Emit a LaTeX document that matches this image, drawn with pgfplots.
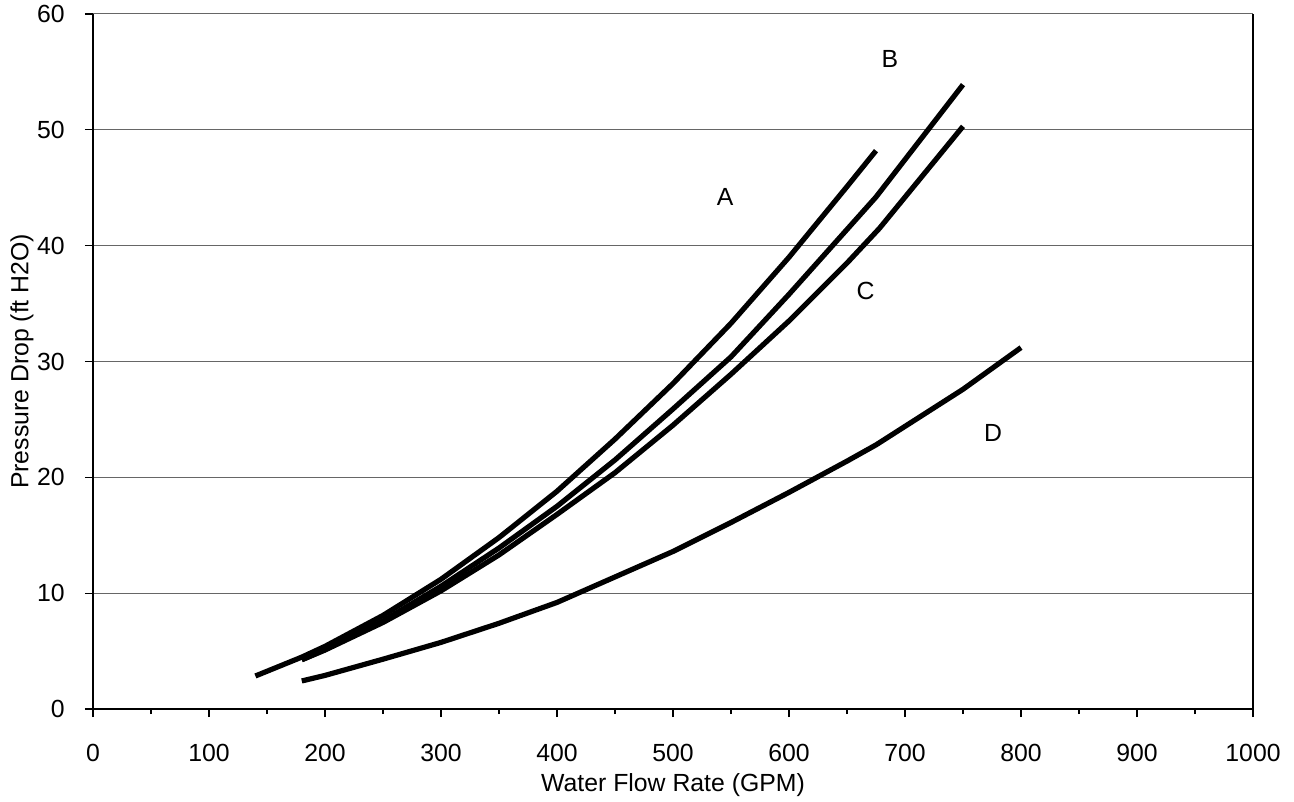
\documentclass[border=0pt]{standalone}
\usepackage{fontspec}
\setmainfont{Liberation Sans}
\usepackage{pgfplots}
\pgfplotsset{compat=1.18}
\newcommand{\chartfont}{\fontsize{12.4}{14}\selectfont}
\begin{document}
\begin{tikzpicture}
\path[use as bounding box] (-46.5pt,-46.5pt) rectangle (600.5pt,354.5pt);
\begin{axis}[
  scale only axis,
  width=580pt, height=347.5pt,
  xmin=0, xmax=1000, ymin=0, ymax=60,
  axis x line*=bottom, axis y line*=left,
  axis line style={line width=1pt, -},
  xtick={0,100,...,1000}, ytick={0,10,...,60},
  minor x tick num=1,
  tick align=outside,
  xtick pos=bottom, ytick pos=left,
  major tick length=4pt, minor tick length=2.5pt,
  every tick/.style={black, line width=0.6pt},
  ymajorgrids,
  major grid style={black!60, line width=0.5pt},
  /pgf/number format/assume math mode=true,
  /pgf/number format/1000 sep={},
  tick label style={font=\chartfont},
  xticklabel style={inner sep=0pt, anchor=base, yshift=-22pt},
  yticklabel style={inner sep=0pt, anchor=east, xshift=-10pt},
  label style={font=\chartfont},
  xlabel={Water Flow Rate (GPM)},
  ylabel={Pressure Drop (ft H2O)},
  xlabel style={at={(axis description cs:0.5,-0.1094)}, anchor=center},
  ylabel style={at={(axis description cs:-0.0612,0.5)}, anchor=center},
  clip=false,
  cycle list={{black}},
  every axis plot/.append style={line width=2.6pt, line join=round, no markers},
]
% A
\addplot coordinates {
(140,2.85) (180,4.48) (200,5.41) (250,8.08) (300,11.2) (350,14.8)
(400,18.8) (450,23.3) (500,28.1) (550,33.3) (600,39.0) (650,45.1) (675,48.2)
};
% B
\addplot coordinates {
(180,4.25) (200,5.12) (250,7.61) (300,10.6) (350,13.9) (400,17.5)
(450,21.5) (500,25.9) (550,30.4) (600,35.8) (650,41.4) (675,44.2) (750,53.9)
};
% C
\addplot coordinates {
(180,4.25) (200,5.09) (250,7.47) (300,10.2) (350,13.3) (400,16.8)
(450,20.4) (500,24.5) (550,28.9) (600,33.5) (650,38.5) (678,41.5) (750,50.3)
};
% D
\addplot coordinates {
(180,2.42) (200,2.9) (250,4.3) (300,5.75) (350,7.4) (400,9.2)
(450,11.4) (500,13.6) (550,16.1) (600,18.7) (650,21.4) (675,22.8)
(700,24.4) (750,27.6) (800,31.2)
};
\draw[black, line width=1pt] (axis cs:1000,0) -- (axis cs:1000,60);
\node[font=\chartfont] at (axis cs:545,44.2) {A};
\node[font=\chartfont] at (axis cs:687,56.1) {B};
\node[font=\chartfont] at (axis cs:666,36.1) {C};
\node[font=\chartfont] at (axis cs:776,23.8) {D};
\end{axis}
\end{tikzpicture}
\end{document}
